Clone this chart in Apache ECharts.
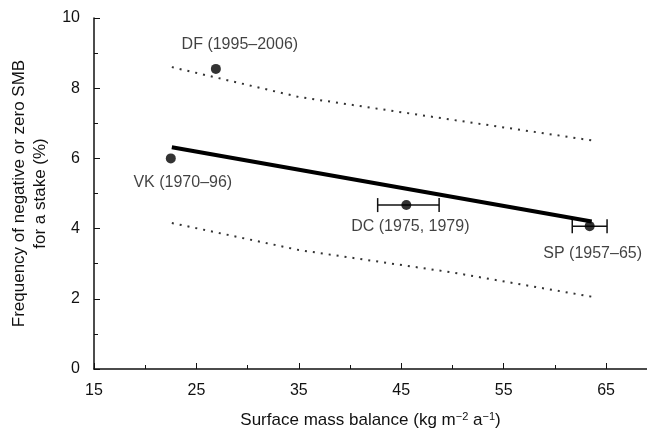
<!DOCTYPE html>
<html>
<head>
<meta charset="utf-8">
<script src="https://cdn.jsdelivr.net/npm/echarts@6/dist/echarts.min.js"></script>
<style>html,body{margin:0;padding:0;background:#fff}#main{width:647px;height:437px}</style>
</head>
<body>
<div id="main"></div>
<script>
// site points [smb, freq, label]
var sites = ['DF (1995–2006)', 'VK (1970–96)', 'DC (1975, 1979)', 'SP (1957–65)'];
var siteX = [26.9, 22.5, 45.5, 63.4];
var siteY = [8.55, 6.0, 4.67, 4.07];
// error bars (only DC, SP)
var errLo = [null, null, 42.7, 61.7];
var errHi = [null, null, 48.7, 65.1];
// regression line and confidence bounds
var fitX = [22.6, 63.6];
var fitY = [6.32, 4.2];
var upperX = [22.6, 35, 50, 63.9];
var upperY = [8.6, 7.75, 7.1, 6.5];
var lowerX = [22.6, 35, 50, 63.8];
var lowerY = [4.16, 3.39, 2.75, 2.05];

var labelPos = ['top', 'bottom', 'bottom', 'bottom'];
var labelOff = [[24, -6], [12, 6], [4, 4], [3, 9]];

function pairs(xs, ys) { return xs.map(function (x, i) { return [x, ys[i]]; }); }

var chart = echarts.init(document.getElementById('main'));
var fnt = 'Liberation Sans, Arial, sans-serif';
var ink = '#111';
chart.setOption({
  animation: false,
  textStyle: { fontFamily: fnt },
  grid: { left: 94, right: 0, top: 18, bottom: 68 },
  xAxis: {
    type: 'value', min: 15, max: 69, interval: 10,
    minorTick: { show: true, splitNumber: 2, length: 4, lineStyle: { color: ink } },
    axisLine: { lineStyle: { color: ink, width: 1.5 } },
    axisTick: { inside: true, length: 6, lineStyle: { color: ink } },
    splitLine: { show: false },
    axisLabel: { color: ink, fontSize: 16, margin: 14, showMaxLabel: false },
    name: '{a|Surface mass balance (kg m}{s|−2}{a| a}{s|−1}{a|)}',
    nameLocation: 'middle', nameGap: 42,
    nameTextStyle: { rich: {
      a: { fontSize: 17, color: ink, fontFamily: fnt },
      s: { fontSize: 11, color: ink, verticalAlign: 'top', padding: [0, 0, 8, 0], fontFamily: fnt }
    } }
  },
  yAxis: {
    type: 'value', min: 0, max: 10, interval: 2,
    minorTick: { show: true, splitNumber: 2, length: 4, lineStyle: { color: ink } },
    axisLine: { show: true, lineStyle: { color: ink, width: 1.5 } },
    axisTick: { show: true, inside: true, length: 6, lineStyle: { color: ink } },
    splitLine: { show: false },
    axisLabel: { color: ink, fontSize: 16, margin: 14 },
    name: 'Frequency of negative or zero SMB\nfor a stake (%)',
    nameLocation: 'middle', nameGap: 38, nameRotate: 90,
    nameTextStyle: { fontSize: 17, color: ink, lineHeight: 21 }
  },
  series: [
    { type: 'line', data: pairs(fitX, fitY), symbol: 'none', lineStyle: { color: '#000', width: 4 } },
    { type: 'line', data: pairs(upperX, upperY), symbol: 'none', lineStyle: { color: '#333', width: 2, type: [2, 6] } },
    { type: 'line', data: pairs(lowerX, lowerY), symbol: 'none', lineStyle: { color: '#333', width: 2, type: [2, 6] } },
    {
      type: 'custom',
      data: siteX.map(function (x, i) { return [errLo[i], errHi[i], siteY[i]]; }).filter(function (d) { return d[0] != null; }),
      renderItem: function (params, api) {
        var a = api.coord([api.value(0), api.value(2)]);
        var b = api.coord([api.value(1), api.value(2)]);
        var h = 7;
        var st = { stroke: ink, lineWidth: 1.5 };
        return { type: 'group', children: [
          { type: 'line', shape: { x1: a[0], y1: a[1], x2: b[0], y2: b[1] }, style: st },
          { type: 'line', shape: { x1: a[0], y1: a[1] - h, x2: a[0], y2: a[1] + h }, style: st },
          { type: 'line', shape: { x1: b[0], y1: b[1] - h, x2: b[0], y2: b[1] + h }, style: st }
        ] };
      }
    },
    {
      type: 'scatter', symbolSize: 10, itemStyle: { color: '#000' }, z: 5,
      data: siteX.map(function (x, i) {
        return { value: [x, siteY[i]], label: { show: true, formatter: sites[i], position: labelPos[i], offset: labelOff[i], color: ink, fontSize: 16 } };
      })
    }
  ]
});
</script>
</body>
</html>
